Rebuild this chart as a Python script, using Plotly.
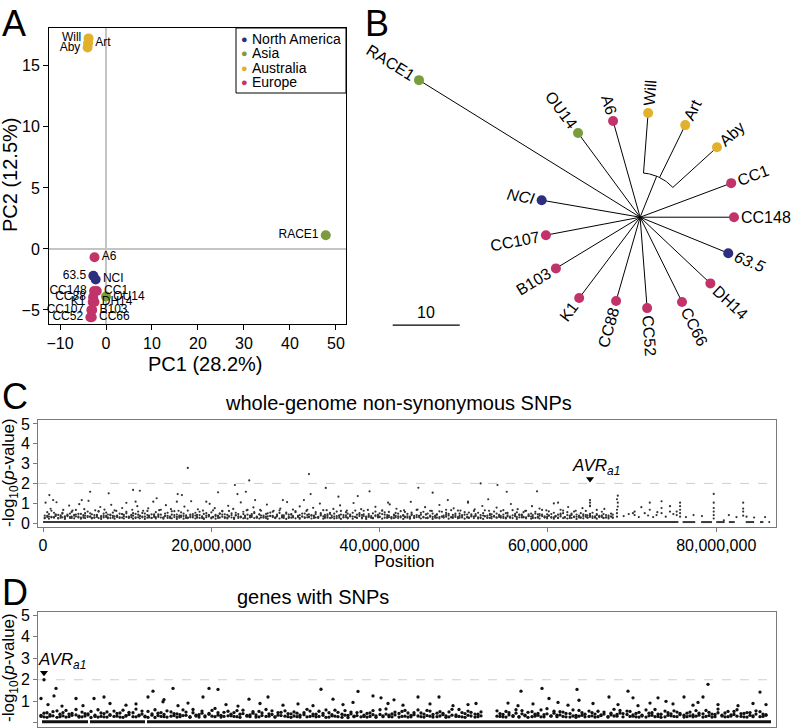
import numpy as np
import plotly.graph_objects as go

W, H = 793, 728
FONT = "Liberation Sans, Arial, sans-serif"


def px(x):
    return x / W


def py(y):
    return 1 - y / H


REGION_COLORS = {"North America": "#2c2f7e", "Asia": "#7b9c3c",
                 "Australia": "#e2b12b", "Europe": "#c23369"}
legend_regions = ["North America", "Asia", "Australia", "Europe"]

# ---------------- Panel A: PCA ----------------
pca_names = ["Will", "Art", "Aby", "RACE1", "A6", "63.5", "NCI", "OU14", "CC1", "CC148",
             "CC88", "K1", "DH14", "CC107", "B103", "CC52", "CC66"]
pca_pc1 = [-3.8, -3.9, -4.0, 47.8, -2.5, -2.75, -2.25, 0.0, -2.0, -2.6,
           -2.8, -2.9, -2.5, -3.2, -3.0, -3.4, -3.1]
pca_pc2 = [17.25, 16.85, 16.5, 1.12, -0.68, -2.2, -2.5, -3.9, -3.45, -3.45,
           -3.95, -4.35, -4.35, -5.0, -5.0, -5.6, -5.6]
pca_region = ["Australia", "Australia", "Australia", "Asia", "Europe", "North America",
              "North America", "Asia", "Europe", "Europe", "Europe", "Europe", "Europe",
              "Europe", "Europe", "Europe", "Europe"]
pca_label_side = ["middle left", "middle right", "middle left", "middle left", "middle right",
                  "middle left", "middle right", "middle right", "middle right", "middle left",
                  "middle left", "middle left", "middle right", "middle left", "middle right",
                  "middle left", "middle right"]

# ---------------- Panel B: tree ----------------
tree_names = ["RACE1", "OU14", "A6", "Will", "Art", "Aby", "CC1", "CC148", "63.5", "DH14",
              "CC66", "CC52", "CC88", "K1", "B103", "CC107", "NCI"]
tree_angle = [148.2, 126.4, 105.7, 85.6, 63.9, 42.3, 20.5, 0.0, -22.2, -43.3,
              -63.7, -85.6, -106.0, -127.0, -148.7, -169.2, 170.2]
tree_length = [38.8, 15.6, 14.9, 15.6, 15.3, 15.5, 14.5, 14.0, 14.2, 14.4,
               14.1, 13.6, 13.0, 15.1, 14.7, 14.3, 14.9]
tree_region = ["Asia", "Asia", "Europe", "Australia", "Australia", "Australia", "Europe",
               "Europe", "North America", "Europe", "Europe", "Europe", "Europe", "Europe",
               "Europe", "Europe", "North America"]
tree_italic = ["NCI", "63.5"]
aus_clade = ["Will", "Art", "Aby"]
aus_node_radius = 6.6
aus_node_angle = 68.0
scale_bar_length = 10

# ---------------- Panel C: whole-genome SNPs (positions in Mb) ----------------
c_band_pos = [0.2, 0.5, 0.7, 1.0, 1.3, 1.5, 1.8, 2.1, 2.3, 2.6, 2.9, 3.2, 3.4, 3.7, 3.9, 4.2, 4.5, 4.8, 5.0, 5.3,
              5.6, 5.8, 6.1, 6.4, 6.6, 6.9, 7.2, 7.5, 7.7, 8.0, 8.3, 8.5, 8.8, 9.1, 9.4, 9.6, 9.9, 10.2, 10.5, 10.7,
              11.0, 11.3, 11.5, 11.8, 12.1, 12.4, 12.6, 12.9, 13.2, 13.4, 13.7, 14.0, 14.3, 14.5, 14.8, 15.1, 15.3, 15.6, 15.9, 16.2,
              16.4, 16.7, 17.0, 17.2, 17.5, 17.8, 18.1, 18.3, 18.6, 18.9, 19.1, 19.4, 19.7, 20.0, 20.2, 20.5, 20.8, 21.0, 21.3, 21.6,
              21.9, 22.1, 22.4, 22.7, 22.9, 23.2, 23.5, 23.8, 24.0, 24.3, 24.6, 24.8, 25.1, 25.4, 25.7, 25.9, 26.2, 26.5, 26.7, 27.0,
              27.3, 27.6, 27.8, 28.1, 28.4, 28.6, 28.9, 29.2, 29.5, 29.7, 30.0, 30.3, 30.5, 30.8, 31.1, 31.4, 31.6, 31.9, 32.2, 32.4,
              32.7, 33.0, 33.3, 33.5, 33.8, 34.1, 34.3, 34.6, 34.9, 35.2, 35.4, 35.7, 36.0, 36.2, 36.5, 36.8, 37.1, 37.3, 37.6, 37.9,
              38.1, 38.4, 38.7, 39.0, 39.2, 39.5, 39.8, 40.0, 40.3, 40.6, 40.9, 41.1, 41.4, 41.7, 41.9, 42.2, 42.5, 42.8, 43.0, 43.3,
              43.6, 43.8, 44.1, 44.4, 44.7, 44.9, 45.2, 45.5, 45.7, 46.0, 46.3, 46.6, 46.8, 47.1, 47.4, 47.6, 47.9, 48.2, 48.5, 48.7,
              49.0, 49.3, 49.5, 49.8, 50.1, 50.4, 50.6, 50.9, 51.2, 51.4, 51.7, 52.0, 52.3, 52.5, 52.8, 53.1, 53.3, 53.6, 53.9, 54.2,
              54.4, 54.7, 55.0, 55.2, 55.5, 55.8, 56.1, 56.3, 56.6, 56.9, 57.1, 57.4, 57.7, 58.0, 58.2, 58.5, 58.8, 59.0, 59.3, 59.6,
              59.9, 60.1, 60.4, 60.7, 60.9, 61.2, 61.5, 61.8, 62.0, 62.3, 62.6, 62.8, 63.1, 63.4, 63.7, 63.9, 64.2, 64.5, 64.7, 65.0,
              65.3, 65.6, 65.8, 66.1, 66.4, 66.6, 66.9, 67.2, 67.5, 67.7]
c_band_val1 = [0.38, 0.31, 0.45, 0.29, 0.52, 0.36, 0.41, 0.27, 0.48, 0.34, 0.43, 0.30, 0.56, 0.37, 0.33, 0.46, 0.28, 0.40, 0.50, 0.35,
               0.32, 0.44, 0.27, 0.39, 0.58, 0.31, 0.47, 0.36, 0.29, 0.42, 0.53, 0.34, 0.38, 0.26, 0.45, 0.33, 0.49, 0.30, 0.41, 0.37,
               0.46, 0.29, 0.35, 0.51, 0.32, 0.40, 0.28, 0.44, 0.37, 0.55, 0.31, 0.42, 0.27, 0.48, 0.36, 0.33, 0.59, 0.30, 0.43, 0.38,
               0.30, 0.47, 0.39, 0.28, 0.43, 0.35, 0.52, 0.31, 0.40, 0.26, 0.46, 0.37, 0.33, 0.54, 0.29, 0.41, 0.36, 0.48, 0.32, 0.44,
               0.41, 0.33, 0.49, 0.27, 0.38, 0.45, 0.30, 0.57, 0.35, 0.42, 0.29, 0.39, 0.50, 0.32, 0.44, 0.28, 0.37, 0.46, 0.34, 0.53,
               0.36, 0.28, 0.43, 0.51, 0.31, 0.39, 0.47, 0.26, 0.42, 0.35, 0.55, 0.30, 0.40, 0.33, 0.48, 0.29, 0.44, 0.37, 0.31, 0.45,
               0.29, 0.50, 0.34, 0.41, 0.27, 0.46, 0.38, 0.32, 0.58, 0.36, 0.43, 0.28, 0.39, 0.47, 0.33, 0.52, 0.30, 0.42, 0.35, 0.40,
               0.44, 0.32, 0.37, 0.28, 0.49, 0.35, 0.41, 0.30, 0.45, 0.54, 0.31, 0.38, 0.27, 0.43, 0.36, 0.47, 0.29, 0.40, 0.56, 0.34,
               0.33, 0.45, 0.29, 0.40, 0.36, 0.52, 0.31, 0.43, 0.27, 0.38, 0.48, 0.35, 0.42, 0.30, 0.57, 0.37, 0.32, 0.46, 0.28, 0.41,
               0.39, 0.30, 0.47, 0.35, 0.42, 0.28, 0.53, 0.37, 0.33, 0.45, 0.29, 0.40, 0.50, 0.34, 0.38, 0.26, 0.44, 0.36, 0.48, 0.31,
               0.35, 0.43, 0.28, 0.51, 0.32, 0.39, 0.46, 0.30, 0.41, 0.36, 0.55, 0.29, 0.44, 0.33, 0.40, 0.48, 0.27, 0.37, 0.42, 0.34,
               0.31, 0.38, 0.45, 0.29, 0.36, 0.42, 0.33, 0.50, 0.28, 0.40, 0.35, 0.47, 0.30, 0.43, 0.37, 0.27, 0.44, 0.32, 0.39, 0.46,
               0.34, 0.29, 0.41, 0.36, 0.31, 0.45, 0.28, 0.38, 0.33, 0.42]
c_band_val2 = [0.27, 0.55, 0.33, 0.62, 0.30, 0.44, 0.25, 0.39, 0.51, 0.28, 0.35, 0.48, 0.26, 0.41, 0.66, 0.32, 0.46, 0.27, 0.37, 0.58,
               0.49, 0.26, 0.40, 0.31, 0.60, 0.35, 0.28, 0.53, 0.43, 0.25, 0.36, 0.64, 0.30, 0.47, 0.27, 0.41, 0.56, 0.33, 0.29, 0.50,
               0.25, 0.58, 0.37, 0.29, 0.48, 0.61, 0.33, 0.26, 0.44, 0.30, 0.39, 0.67, 0.28, 0.36, 0.52, 0.25, 0.42, 0.60, 0.31, 0.27,
               0.54, 0.35, 0.26, 0.63, 0.29, 0.45, 0.38, 0.27, 0.57, 0.33, 0.24, 0.50, 0.41, 0.28, 0.64, 0.36, 0.26, 0.47, 0.59, 0.30,
               0.28, 0.61, 0.40, 0.25, 0.52, 0.34, 0.29, 0.45, 0.26, 0.66, 0.38, 0.31, 0.55, 0.27, 0.43, 0.62, 0.30, 0.25, 0.49, 0.36,
               0.57, 0.27, 0.34, 0.64, 0.39, 0.26, 0.53, 0.31, 0.45, 0.28, 0.60, 0.35, 0.25, 0.48, 0.29, 0.67, 0.33, 0.40, 0.26, 0.55,
               0.31, 0.44, 0.65, 0.26, 0.36, 0.52, 0.28, 0.47, 0.25, 0.39, 0.61, 0.30, 0.55, 0.27, 0.42, 0.33, 0.63, 0.26, 0.50, 0.29,
               0.62, 0.28, 0.45, 0.35, 0.26, 0.58, 0.32, 0.49, 0.64, 0.27, 0.40, 0.56, 0.30, 0.25, 0.51, 0.34, 0.60, 0.37, 0.28, 0.46,
               0.26, 0.53, 0.36, 0.66, 0.29, 0.42, 0.57, 0.25, 0.48, 0.62, 0.31, 0.27, 0.44, 0.59, 0.33, 0.28, 0.51, 0.38, 0.65, 0.30,
               0.47, 0.63, 0.27, 0.40, 0.55, 0.30, 0.26, 0.44, 0.61, 0.35, 0.52, 0.25, 0.38, 0.64, 0.29, 0.46, 0.32, 0.58, 0.27, 0.41,
               0.60, 0.26, 0.50, 0.33, 0.27, 0.65, 0.37, 0.54, 0.29, 0.43, 0.28, 0.62, 0.35, 0.48, 0.25, 0.57, 0.31, 0.45, 0.66, 0.28,
               0.44, 0.59, 0.27, 0.52, 0.34, 0.25, 0.47, 0.63, 0.30, 0.55, 0.26, 0.41, 0.58, 0.32, 0.28, 0.50, 0.36, 0.61, 0.27, 0.39,
               0.52, 0.28, 0.45, 0.33, 0.57, 0.26, 0.40, 0.30, 0.48, 0.27]
c_band_val3 = [0.24, 0.36, 0.22, 0.31, 0.27, 0.40, 0.23, 0.34, 0.29, 0.21, 0.38, 0.26, 0.32, 0.24, 0.43, 0.28, 0.22, 0.35, 0.25, 0.30,
               0.33, 0.23, 0.28, 0.41, 0.25, 0.21, 0.36, 0.30, 0.24, 0.39, 0.27, 0.22, 0.34, 0.29, 0.45, 0.23, 0.31, 0.26, 0.37, 0.22,
               0.29, 0.42, 0.24, 0.33, 0.21, 0.27, 0.38, 0.25, 0.31, 0.23, 0.44, 0.28, 0.22, 0.35, 0.26, 0.30, 0.24, 0.40, 0.21, 0.32,
               0.37, 0.22, 0.30, 0.25, 0.35, 0.28, 0.23, 0.41, 0.26, 0.33, 0.21, 0.29, 0.39, 0.24, 0.31, 0.22, 0.36, 0.27, 0.43, 0.25,
               0.23, 0.34, 0.28, 0.21, 0.40, 0.26, 0.32, 0.24, 0.37, 0.22, 0.30, 0.45, 0.25, 0.29, 0.23, 0.38, 0.27, 0.33, 0.21, 0.35,
               0.30, 0.25, 0.39, 0.23, 0.28, 0.34, 0.21, 0.42, 0.27, 0.31, 0.24, 0.36, 0.22, 0.33, 0.26, 0.41, 0.29, 0.23, 0.37, 0.28,
               0.26, 0.38, 0.22, 0.32, 0.44, 0.25, 0.29, 0.23, 0.35, 0.27, 0.21, 0.40, 0.30, 0.24, 0.36, 0.22, 0.31, 0.28, 0.43, 0.24,
               0.35, 0.21, 0.31, 0.27, 0.24, 0.39, 0.28, 0.33, 0.22, 0.42, 0.26, 0.30, 0.23, 0.37, 0.29, 0.25, 0.34, 0.21, 0.32, 0.27,
               0.22, 0.40, 0.26, 0.30, 0.35, 0.23, 0.28, 0.44, 0.25, 0.32, 0.21, 0.37, 0.27, 0.24, 0.33, 0.29, 0.41, 0.22, 0.30, 0.26,
               0.31, 0.24, 0.36, 0.28, 0.22, 0.43, 0.27, 0.33, 0.25, 0.38, 0.23, 0.29, 0.21, 0.35, 0.26, 0.40, 0.24, 0.32, 0.28, 0.37,
               0.27, 0.33, 0.23, 0.39, 0.29, 0.25, 0.34, 0.21, 0.42, 0.28, 0.31, 0.24, 0.36, 0.22, 0.30, 0.26, 0.44, 0.23, 0.35, 0.29,
               0.24, 0.37, 0.30, 0.22, 0.33, 0.27, 0.41, 0.25, 0.29, 0.23, 0.38, 0.26, 0.32, 0.21, 0.35, 0.28, 0.24, 0.40, 0.27, 0.31,
               0.26, 0.34, 0.22, 0.30, 0.38, 0.25, 0.29, 0.23, 0.33, 0.27]
c_mid_pos = [0.9, 1.6, 2.4, 3.1, 3.5, 4.3, 4.9, 5.4, 6.2, 6.8, 7.3, 8.1, 8.7, 9.4, 9.9, 10.6, 11.2, 11.9, 12.5, 13.1,
             13.8, 14.6, 15.2, 16.1, 16.8, 17.6, 18.4, 19.0, 19.8, 20.4, 21.3, 22.0, 22.6, 23.5, 24.2, 25.0, 25.8, 26.6, 27.4, 28.2,
             29.0, 29.7, 30.5, 31.3, 32.1, 32.9, 33.7, 34.5, 35.3, 36.1, 36.9, 37.8, 38.6, 39.5, 40.3, 41.2, 42.0, 42.9, 43.7, 44.5,
             45.4, 46.2, 47.1, 47.9, 48.8, 49.6, 50.5, 51.3, 52.2, 53.0, 53.9, 54.7, 55.6, 56.4, 57.3, 58.1, 59.0, 59.8, 60.7, 61.5,
             62.4, 63.3, 64.1, 65.0, 65.8, 66.7]
c_mid_val = [0.72, 1.05, 0.66, 0.88, 0.63, 0.95, 0.70, 1.12, 0.64, 0.81, 0.68, 0.92, 0.61, 0.76, 1.02, 0.67, 0.85, 0.62, 0.74, 1.08,
             0.65, 0.90, 0.70, 0.62, 0.83, 1.10, 0.69, 0.63, 0.97, 0.75, 0.61, 0.87, 0.71, 1.04, 0.64, 0.79, 0.66, 0.93, 0.62, 0.73,
             1.06, 0.68, 0.84, 0.61, 0.77, 0.98, 0.65, 0.71, 0.89, 0.63, 1.01, 0.70, 0.66, 0.82, 0.62, 0.94, 0.72, 0.64, 1.07, 0.68,
             0.80, 0.61, 0.91, 0.67, 0.74, 0.63, 1.03, 0.69, 0.86, 0.62, 0.78, 0.65, 0.96, 0.70, 0.61, 0.85, 0.73, 0.64, 0.99, 0.67,
             0.81, 0.62, 0.75, 0.88, 0.66, 0.71]
c_high_pos = [0.75, 0.3, 1.2, 5.6, 4.6, 7.8, 10.7, 11.5, 11.0, 13.5, 16.0, 16.5, 15.9, 17.2, 20.8, 19.4, 22.8, 23.1,
              24.1, 24.5, 25.2, 28.5, 31.6, 31.0, 31.8, 33.6, 35.1, 37.4, 38.8, 41.0, 44.6, 46.3, 48.1, 50.5, 52.0,
              52.9, 54.0, 55.1, 58.7, 61.2, 65.0, 65.0, 65.0, 68.3, 68.3, 68.3]
c_high_val = [1.41, 1.03, 1.16, 1.58, 1.16, 1.50, 1.67, 1.63, 1.08, 1.25, 1.46, 1.41, 1.08, 2.78, 1.55, 1.08, 1.92, 1.46,
              1.58, 2.15, 1.16, 1.16, 2.47, 1.16, 1.46, 1.77, 1.33, 1.36, 1.60, 1.03, 1.78, 1.53, 1.16, 1.08, 2.00,
              1.20, 1.92, 1.58, 1.60, 1.03, 1.16, 1.03, 0.85, 1.38, 1.03, 0.83]
c_tail_pos = [68.2, 68.2, 68.2, 68.2, 70.3, 70.3, 70.1, 71.1, 71.5, 72.1, 72.1, 72.9, 73.5, 73.5, 73.5, 74.5, 74.5,
              75.3, 75.3, 75.7, 75.7, 75.7, 75.7, 75.7, 77.3, 79.7, 79.7, 79.7, 79.7, 79.7, 79.7, 80.9, 83.2, 83.2,
              83.2, 83.2, 83.6, 69.0, 69.6, 70.8, 71.9, 72.5, 73.0, 74.0, 74.9, 76.4, 78.3, 81.5, 82.4, 84.5, 85.8]
c_tail_val = [1.20, 0.67, 0.50, 0.32, 0.58, 0.40, 0.50, 0.80, 0.50, 1.03, 0.67, 0.40, 1.10, 0.76, 0.50, 0.85, 0.58,
              0.58, 0.40, 1.03, 0.85, 0.67, 0.50, 0.32, 0.40, 1.47, 1.03, 0.76, 0.58, 0.40, 0.23, 0.14, 1.03, 0.73,
              0.58, 0.37, 0.32, 0.35, 0.45, 0.30, 0.38, 0.30, 0.55, 0.32, 0.45, 0.30, 0.35, 0.40, 0.30, 0.28, 0.30]
c_base_start = [0.0, 76.0, 78.2, 80.0, 81.5, 83.5, 85.2, 86.2]
c_base_end = [75.5, 77.5, 79.5, 81.0, 82.2, 84.5, 85.6, 86.4]
c_base_val = 0.05
c_avr_pos = 65.0
c_threshold = 2.0
c_xticks = [0, 20e6, 40e6, 60e6, 80e6]

# ---------------- Panel D: genes with SNPs (gene order) ----------------
d_band_idx = [3, 6, 9, 12, 15, 19, 22, 25, 28, 31, 34, 38, 41, 44, 47, 50, 53, 57, 60, 63,
              66, 69, 72, 76, 79, 82, 85, 88, 91, 95, 98, 101, 104, 107, 110, 114, 117, 120, 123, 126,
              129, 133, 136, 139, 142, 145, 148, 152, 155, 158, 161, 164, 167, 171, 174, 177, 180, 183, 186, 190,
              193, 196, 199, 202, 205, 209, 212, 215, 218, 221, 224, 228, 231, 234, 237, 240, 243, 247, 250, 253,
              256, 259, 262, 266, 269, 272, 275, 278, 281, 285, 288, 291, 294, 297, 300, 304, 307, 310, 313, 316,
              319, 323, 326, 329, 332, 335, 338, 342, 345, 348, 351, 354, 357, 361, 364, 367, 370, 373, 376, 380,
              383, 386, 389, 392, 395, 399, 402, 405, 408, 411, 414, 418, 421, 424, 427, 430, 433, 437, 440, 443,
              459, 462, 465, 468, 471, 475, 478, 481, 484, 487, 490, 494, 497, 500, 503, 506, 509, 513, 516, 519,
              522, 525, 528, 532, 535, 538, 541, 544, 547, 551, 554, 557, 560, 563, 566, 570, 573, 576, 579, 582,
              585, 589, 592, 595, 598, 601, 604, 608, 611, 614, 617, 620, 623, 627, 630, 633, 636, 639, 642, 646,
              649, 652, 655, 658, 661, 665, 668, 671, 674, 677, 680, 684, 687, 690, 693, 696, 699, 703, 706, 709,
              712, 715, 718, 722, 725, 728]
d_band_val1 = [0.35, 0.28, 0.47, 0.31, 0.52, 0.26, 0.40, 0.33, 0.58, 0.29, 0.44, 0.37, 0.27, 0.50, 0.32, 0.42, 0.25, 0.36, 0.61, 0.30,
               0.43, 0.27, 0.38, 0.55, 0.31, 0.46, 0.26, 0.34, 0.49, 0.29, 0.64, 0.33, 0.41, 0.28, 0.53, 0.36, 0.25, 0.45, 0.30, 0.39,
               0.27, 0.51, 0.34, 0.42, 0.29, 0.60, 0.35, 0.26, 0.47, 0.32, 0.38, 0.55, 0.28, 0.44, 0.31, 0.67, 0.36, 0.27, 0.49, 0.33,
               0.40, 0.30, 0.57, 0.26, 0.43, 0.35, 0.29, 0.52, 0.37, 0.28, 0.46, 0.62, 0.31, 0.39, 0.27, 0.48, 0.34, 0.56, 0.29, 0.42,
               0.32, 0.45, 0.27, 0.38, 0.63, 0.30, 0.41, 0.28, 0.54, 0.35, 0.26, 0.47, 0.33, 0.59, 0.29, 0.40, 0.36, 0.25, 0.50, 0.31,
               0.48, 0.28, 0.36, 0.44, 0.30, 0.57, 0.26, 0.39, 0.33, 0.65, 0.29, 0.42, 0.37, 0.27, 0.53, 0.31, 0.46, 0.28, 0.38, 0.60,
               0.29, 0.41, 0.34, 0.55, 0.27, 0.45, 0.32, 0.38, 0.26, 0.51, 0.36, 0.30, 0.62, 0.28, 0.43, 0.35, 0.49, 0.27, 0.40, 0.33,
               0.56, 0.30, 0.39, 0.27, 0.47, 0.34, 0.61, 0.29, 0.42, 0.36, 0.26, 0.52, 0.31, 0.44, 0.28, 0.38, 0.66, 0.33, 0.45, 0.29,
               0.37, 0.50, 0.28, 0.43, 0.32, 0.26, 0.58, 0.35, 0.40, 0.30, 0.48, 0.27, 0.54, 0.34, 0.41, 0.29, 0.37, 0.63, 0.31, 0.46,
               0.28, 0.39, 0.53, 0.31, 0.44, 0.27, 0.36, 0.60, 0.33, 0.47, 0.29, 0.41, 0.26, 0.55, 0.35, 0.42, 0.30, 0.50, 0.38, 0.27,
               0.45, 0.33, 0.28, 0.57, 0.36, 0.42, 0.30, 0.49, 0.27, 0.39, 0.64, 0.32, 0.46, 0.29, 0.37, 0.53, 0.31, 0.43, 0.28, 0.48,
               0.35, 0.29, 0.41, 0.52, 0.30, 0.38]
d_band_val2 = [0.30, 0.45, 0.26, 0.38, 0.33, 0.56, 0.29, 0.48, 0.27, 0.41, 0.35, 0.62, 0.31, 0.28, 0.43, 0.37, 0.53, 0.30, 0.27, 0.46,
               0.28, 0.51, 0.35, 0.30, 0.44, 0.27, 0.59, 0.32, 0.39, 0.47, 0.28, 0.36, 0.55, 0.31, 0.26, 0.42, 0.61, 0.34, 0.48, 0.29,
               0.56, 0.31, 0.43, 0.27, 0.38, 0.34, 0.50, 0.29, 0.62, 0.36, 0.27, 0.45, 0.32, 0.40, 0.58, 0.29, 0.47, 0.35, 0.30, 0.54,
               0.33, 0.48, 0.29, 0.40, 0.59, 0.31, 0.37, 0.45, 0.27, 0.53, 0.34, 0.30, 0.42, 0.56, 0.28, 0.36, 0.49, 0.31, 0.43, 0.26,
               0.51, 0.29, 0.36, 0.47, 0.28, 0.55, 0.33, 0.40, 0.30, 0.44, 0.60, 0.27, 0.38, 0.31, 0.49, 0.26, 0.57, 0.35, 0.42, 0.29,
               0.34, 0.52, 0.30, 0.27, 0.46, 0.38, 0.33, 0.61, 0.29, 0.41, 0.36, 0.28, 0.50, 0.44, 0.30, 0.58, 0.27, 0.35, 0.47, 0.32,
               0.46, 0.27, 0.58, 0.31, 0.39, 0.29, 0.52, 0.44, 0.33, 0.28, 0.63, 0.37, 0.30, 0.48, 0.26, 0.55, 0.32, 0.41, 0.29, 0.51,
               0.31, 0.43, 0.28, 0.53, 0.37, 0.30, 0.45, 0.27, 0.57, 0.33, 0.49, 0.29, 0.40, 0.35, 0.60, 0.28, 0.42, 0.31, 0.54, 0.36,
               0.52, 0.30, 0.44, 0.27, 0.60, 0.35, 0.31, 0.47, 0.28, 0.55, 0.33, 0.41, 0.29, 0.37, 0.50, 0.27, 0.45, 0.32, 0.39, 0.58,
               0.43, 0.55, 0.30, 0.37, 0.28, 0.49, 0.32, 0.27, 0.45, 0.35, 0.62, 0.30, 0.40, 0.28, 0.47, 0.33, 0.56, 0.29, 0.44, 0.36,
               0.29, 0.50, 0.37, 0.31, 0.45, 0.27, 0.58, 0.34, 0.41, 0.29, 0.47, 0.36, 0.28, 0.53, 0.32, 0.39, 0.61, 0.30, 0.44, 0.27,
               0.48, 0.33, 0.56, 0.29, 0.41, 0.35]
d_high_idx = [6, 18, 16, 3, 38, 56, 66, 115, 135, 110, 126, 125, 171, 180, 165, 211, 230, 283, 295, 320, 335, 343, 356,
              380, 401, 438, 483, 504, 539, 590, 571, 595, 620, 646, 665, 670, 722, 541, 511, 628,
              10, 24, 45, 72, 88, 98, 140, 150, 188, 200, 222, 245, 260, 275, 305, 315, 350, 365, 392, 415, 430,
              470, 480, 495, 520, 530, 555, 580, 600, 612, 635, 655, 660, 680, 700, 715, 728]
d_high_val = [2.00, 1.60, 1.25, 1.13, 1.13, 1.13, 1.20, 1.47, 1.60, 1.20, 1.08, 0.98, 1.60, 1.55, 1.20, 1.10, 1.20, 1.56,
              1.10, 1.46, 1.25, 1.16, 1.07, 1.20, 1.20, 0.90, 1.47, 1.60, 1.55, 1.47, 1.20, 1.16, 1.16, 1.20, 1.20, 1.79,
              1.43, 1.05, 1.13, 1.00,
              0.85, 0.78, 0.80, 0.90, 0.82, 0.88, 0.80, 0.92, 0.85, 0.78, 0.90, 0.82, 0.88, 0.80, 0.85, 0.95, 0.90, 0.82,
              0.88, 0.80, 0.85, 0.92, 0.80, 0.88, 0.95, 0.82, 0.90, 0.85, 0.80, 0.92, 0.88, 0.82, 0.95, 0.85, 0.80, 0.90, 0.85]
d_base_start = [4, 52, 109]
d_base_end = [50, 107, 733]
d_base_val = 0.05
d_avr_idx = 6
d_threshold = 2.0
y_ticks_assoc = [0, 1, 2, 3, 4, 5]

# ======================================================================
fig = go.Figure()

# ---- Panel A traces ----
fig.add_trace(go.Scatter(
    x=pca_pc1, y=pca_pc2, mode="markers+text", text=pca_names,
    textposition=pca_label_side,
    textfont=dict(size=12, color="black", family=FONT),
    marker=dict(size=10, color=[REGION_COLORS[r] for r in pca_region], line=dict(width=0)),
    xaxis="x", yaxis="y", cliponaxis=False, hoverinfo="skip"))

# ---- Panel B traces ----
def polar(r, a):
    a = np.radians(a)
    return r * np.cos(a), r * np.sin(a)

bx, by = [], []
for name, a, L in zip(tree_names, tree_angle, tree_length):
    if name in aus_clade:
        x0, y0 = polar(aus_node_radius, a)
    else:
        x0, y0 = 0.0, 0.0
    x1, y1 = polar(L, a)
    bx += [x0, x1, None]
    by += [y0, y1, None]
sx, sy = polar(aus_node_radius, aus_node_angle)
bx += [0, sx, None]
by += [0, sy, None]
aus_angles = [a for n, a in zip(tree_names, tree_angle) if n in aus_clade]
th = np.linspace(min(aus_angles), max(aus_angles), 40)
arx, ary = polar(aus_node_radius, th)
bx += list(arx) + [None]
by += list(ary) + [None]
fig.add_trace(go.Scatter(x=bx, y=by, mode="lines", line=dict(color="black", width=1),
                         xaxis="x2", yaxis="y2", hoverinfo="skip"))
leaf_x = [polar(L, a)[0] for a, L in zip(tree_angle, tree_length)]
leaf_y = [polar(L, a)[1] for a, L in zip(tree_angle, tree_length)]
fig.add_trace(go.Scatter(x=leaf_x, y=leaf_y, mode="markers",
                         marker=dict(size=10, color=[REGION_COLORS[r] for r in tree_region], line=dict(width=0)),
                         xaxis="x2", yaxis="y2", cliponaxis=False, hoverinfo="skip"))
# scale bar
sb_x0, sb_y = -36.9, -16.1
fig.add_trace(go.Scatter(x=[sb_x0, sb_x0 + scale_bar_length], y=[sb_y, sb_y], mode="lines",
                         line=dict(color="black", width=1.2), xaxis="x2", yaxis="y2", hoverinfo="skip"))

# ---- Panel C traces ----
MB = 1e6
seg_x, seg_y = [], []
for s, e in zip(c_base_start, c_base_end):
    seg_x += [s * MB, e * MB, None]
    seg_y += [c_base_val, c_base_val, None]
fig.add_trace(go.Scatter(x=seg_x, y=seg_y, mode="lines", line=dict(color="#3a3a3a", width=2),
                         xaxis="x3", yaxis="y3", hoverinfo="skip"))
nb = len(c_band_pos)
c_all_x = ([p * MB for p in c_band_pos] * 3 + [p * MB for p in c_mid_pos] +
           [p * MB for p in c_high_pos] + [p * MB for p in c_tail_pos])
c_all_y = (c_band_val1[:nb] + c_band_val2[:nb] + c_band_val3[:nb] + c_mid_val +
           c_high_val + c_tail_val)
n = min(len(c_all_x), len(c_all_y))
fig.add_trace(go.Scatter(x=c_all_x[:n], y=c_all_y[:n], mode="markers",
                         marker=dict(size=2.2, color="#333333", line=dict(width=0)),
                         xaxis="x3", yaxis="y3", hoverinfo="skip"))
fig.add_trace(go.Scatter(x=[c_avr_pos * MB], y=[2.22], mode="markers",
                         marker=dict(symbol="triangle-down", size=7, color="black"),
                         xaxis="x3", yaxis="y3", hoverinfo="skip"))

# ---- Panel D traces ----
seg_x, seg_y = [], []
for s, e in zip(d_base_start, d_base_end):
    seg_x += [s, e, None]
    seg_y += [d_base_val, d_base_val, None]
fig.add_trace(go.Scatter(x=seg_x, y=seg_y, mode="lines", line=dict(color="#111111", width=3),
                         xaxis="x4", yaxis="y4", hoverinfo="skip"))
d_all_x = d_band_idx * 2 + d_high_idx
d_all_y = d_band_val1[:len(d_band_idx)] + d_band_val2[:len(d_band_idx)] + d_high_val
n = min(len(d_all_x), len(d_all_y))
fig.add_trace(go.Scatter(x=d_all_x[:n], y=d_all_y[:n], mode="markers",
                         marker=dict(size=3.3, color="#111111", line=dict(width=0)),
                         xaxis="x4", yaxis="y4", hoverinfo="skip"))
fig.add_trace(go.Scatter(x=[d_avr_idx], y=[2.33], mode="markers",
                         marker=dict(symbol="triangle-down", size=7, color="black"),
                         xaxis="x4", yaxis="y4", hoverinfo="skip"))

# ======================================================================
annotations = []
shapes = []


def ptext(text, x, y, size, angle=0, xanchor="center", **kw):
    d = dict(text=text, x=px(x), y=py(y), xref="paper", yref="paper", showarrow=False,
             textangle=angle, xanchor=xanchor, yanchor="middle",
             font=dict(size=size, family=FONT, color=kw.pop("color", "black")))
    d.update(kw)
    annotations.append(d)


# panel letters
for letter, (lx, ly) in zip("ABCD", [(14, 23), (377, 24), (15, 397), (15, 592)]):
    ptext(letter, lx, ly, 36)

# Panel A axis titles
ptext("PC1 (28.2%)", 205, 364, 20)
ptext("PC2 (12.5%)", 10, 175, 20, angle=-90)
# Panel A legend
shapes.append(dict(type="rect", xref="paper", yref="paper", x0=px(236), x1=px(346),
                   y0=py(93), y1=py(28), line=dict(color="black", width=1)))
for i, reg in enumerate(legend_regions):
    yy = 38.5 + i * 14.6
    ptext("●", 244, yy, 11, color=REGION_COLORS[reg])
    ptext(reg, 250, yy, 14, xanchor="left")

# Panel B leaf labels
CHAR_W = {'C': 0.722, 'A': 0.667, 'E': 0.667, 'R': 0.722, 'O': 0.778, 'U': 0.722, 'K': 0.667,
          'B': 0.667, 'D': 0.722, 'H': 0.722, 'N': 0.722, 'I': 0.278, 'W': 0.944, 'i': 0.222,
          'l': 0.222, 'r': 0.333, 't': 0.278, 'b': 0.556, 'y': 0.5, '.': 0.278}
BFS = 16
for name, a, lx, ly in zip(tree_names, tree_angle, leaf_x, leaf_y):
    w = sum(CHAR_W.get(ch, 0.556) for ch in name) * BFS
    d = 7 + w / 2
    ar = np.radians(a)
    if -90 <= a <= 90:
        ta = -a
    else:
        ta = 180 - a
        if ta > 180:
            ta -= 360
    txt = f"<i>{name}</i>" if name in tree_italic else name
    annotations.append(dict(text=txt, x=lx, y=ly, xref="x2", yref="y2", showarrow=False,
                            xshift=d * np.cos(ar), yshift=d * np.sin(ar), textangle=ta,
                            font=dict(size=BFS, family=FONT, color="black"),
                            xanchor="center", yanchor="middle"))
annotations.append(dict(text=str(scale_bar_length), x=sb_x0 + scale_bar_length / 2, y=-14.2,
                        xref="x2", yref="y2", showarrow=False, xanchor="center", yanchor="middle",
                        font=dict(size=16, family=FONT, color="black")))

# Panel C texts
ptext("whole-genome non-synonymous SNPs", 398, 403, 20)
ptext("Position", 404, 561, 17)
ptext("-log<sub>10</sub>(<i>p</i>-value)", 10, 473, 17, angle=-90)
annotations.append(dict(text="<i>AVR<sub>a1</sub></i>", x=65.7e6, y=2.83, xref="x3", yref="y3",
                        showarrow=False, xanchor="center", yanchor="middle",
                        font=dict(size=17, family=FONT, color="black")))
shapes.append(dict(type="line", xref="x3 domain", yref="y3", x0=0, x1=1, y0=c_threshold,
                   y1=c_threshold, line=dict(color="#cfcfcf", width=1, dash="dash"), layer="below"))

# Panel D texts
ptext("genes with SNPs", 313, 597, 20)
ptext("-log<sub>10</sub>(<i>p</i>-value)", 10, 668, 17, angle=-90)
annotations.append(dict(text="<i>AVR<sub>a1</sub></i>", x=24, y=2.88, xref="x4", yref="y4",
                        showarrow=False, xanchor="center", yanchor="middle",
                        font=dict(size=17, family=FONT, color="black")))
shapes.append(dict(type="line", xref="x4 domain", yref="y4", x0=0, x1=1, y0=d_threshold,
                   y1=d_threshold, line=dict(color="#cfcfcf", width=1, dash="dash"), layer="below"))

tickfont = dict(size=16, family=FONT, color="black")
gray = "#7a7a7a"

fig.update_layout(
    width=W, height=H, margin=dict(l=0, r=0, t=0, b=0, autoexpand=False),
    paper_bgcolor="white", plot_bgcolor="white", showlegend=False,
    font=dict(family=FONT, color="black"),
    annotations=annotations, shapes=shapes,
    # Panel A
    xaxis=dict(domain=[px(49), px(346)], anchor="y", range=[-12.4, 52.2],
               tickvals=[-10, 0, 10, 20, 30, 40, 50], ticks="outside", ticklen=5, tickcolor="black",
               showline=True, linecolor="black", linewidth=1, mirror=True, showgrid=False,
               zeroline=True, zerolinecolor="#c4c4c4", zerolinewidth=1.5, tickfont=tickfont),
    yaxis=dict(domain=[py(324), py(28)], anchor="x", range=[-6.15, 18.1],
               tickvals=[-5, 0, 5, 10, 15], ticks="outside", ticklen=5, tickcolor="black",
               showline=True, linecolor="black", linewidth=1, mirror=True, showgrid=False,
               zeroline=True, zerolinecolor="#c4c4c4", zerolinewidth=1.5, tickfont=tickfont),
    # Panel B
    xaxis2=dict(domain=[px(390), 1.0], anchor="y2", range=[-37.3, 22.8], visible=False),
    yaxis2=dict(domain=[py(360), 1.0], anchor="x2", range=[-21.3, 32.4], visible=False),
    # Panel C
    xaxis3=dict(domain=[px(38), px(776)], anchor="y3", range=[-0.6e6, 87.1e6],
                tickvals=c_xticks, tickformat=",d", ticks="outside", ticklen=4, tickcolor=gray,
                showline=True, linecolor=gray, linewidth=1, mirror=True, showgrid=False,
                zeroline=False, tickfont=tickfont),
    yaxis3=dict(domain=[py(527), py(420)], anchor="x3", range=[-0.2, 5.2],
                tickvals=y_ticks_assoc, ticks="outside", ticklen=4, tickcolor=gray,
                showline=True, linecolor=gray, linewidth=1, mirror=True, showgrid=False,
                zeroline=False, tickfont=tickfont),
    # Panel D
    xaxis4=dict(domain=[px(38), px(776)], anchor="y4", range=[0, 738],
                showticklabels=False, ticks="",
                showline=True, linecolor=gray, linewidth=1, mirror=True, showgrid=False,
                zeroline=False),
    yaxis4=dict(domain=[py(727), py(612)], anchor="x4", range=[-0.19, 5.14],
                tickvals=y_ticks_assoc, ticks="outside", ticklen=4, tickcolor=gray,
                showline=True, linecolor=gray, linewidth=1, mirror=True, showgrid=False,
                zeroline=False, tickfont=tickfont),
)

fig.write_html("out.html", config={"displayModeBar": False},
               post_script="document.body.style.margin='0';document.body.style.padding='0';")
